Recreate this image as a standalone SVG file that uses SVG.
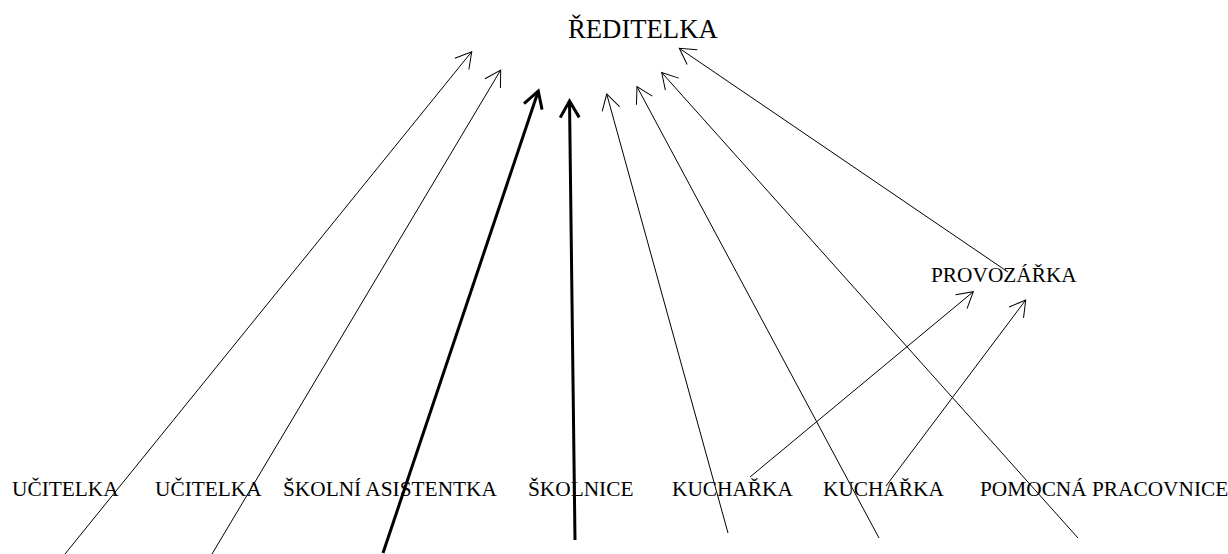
<svg xmlns="http://www.w3.org/2000/svg" width="1228" height="554" viewBox="0 0 1228 554">
<style>
.t{font-size:21.33px;fill:#000}
.big{font-size:26.7px;fill:#000}
.thin{stroke:#000;stroke-width:1;fill:none;marker-end:url(#ah)}
.thick{stroke:#000;stroke-width:3;fill:none;marker-end:url(#ahb)}
</style>
<defs>
<marker id="ah" markerUnits="userSpaceOnUse" orient="auto" refX="0" refY="0" markerWidth="22" markerHeight="24" viewBox="-20 -12 22 24" overflow="visible">
<path d="M-15.6,-9 L0,0 L-15.6,9" fill="none" stroke="#000" stroke-width="1"/>
</marker>
<marker id="ahb" markerUnits="userSpaceOnUse" orient="auto" refX="0" refY="0" markerWidth="24" markerHeight="26" viewBox="-21 -13 24 26" overflow="visible">
<path d="M-16.5,-9.5 L0,0 L-16.5,9.5" fill="none" stroke="#000" stroke-width="3"/>
</marker>
</defs>
<rect width="1228" height="554" fill="#fff"/>
<g id="connectors">
<line class="thin" x1="65" y1="554" x2="471.7" y2="51.7"/>
<line class="thin" x1="212" y1="554" x2="500.7" y2="70"/>
<line class="thick" x1="383" y1="553" x2="538.3" y2="91"/>
<line class="thick" x1="575" y1="540" x2="569.5" y2="101"/>
<line class="thin" x1="728" y1="533" x2="606.7" y2="94"/>
<line class="thin" x1="879" y1="538" x2="637" y2="86.7"/>
<line class="thin" x1="1078" y1="538" x2="661.7" y2="72.5"/>
<line class="thin" x1="1008" y1="272" x2="679.3" y2="48.3"/>
<line class="thin" x1="750" y1="477" x2="973.3" y2="291.7"/>
<line class="thin" x1="886" y1="486" x2="1025.7" y2="300"/>
</g>
<g font-family="'Liberation Serif', 'Times New Roman', Times, serif">
<g id="reditelka"><text class="big" x="568" y="38">ŘEDITELKA</text></g>
<g id="provozarka"><text class="t" x="931" y="282">PROVOZÁŘKA</text></g>
<g id="ucitelka1"><text class="t" x="12" y="496">UČITELKA</text></g>
<g id="ucitelka2"><text class="t" x="155" y="496">UČITELKA</text></g>
<g id="asistentka"><text class="t" x="283" y="496">ŠKOLNÍ ASISTENTKA</text></g>
<g id="skolnice"><text class="t" x="528" y="496">ŠKOLNICE</text></g>
<g id="kucharka1"><text class="t" x="672" y="496">KUCHAŘKA</text></g>
<g id="kucharka2"><text class="t" x="823" y="496">KUCHAŘKA</text></g>
<g id="pomocna"><text class="t" x="980" y="496">POMOCNÁ PRACOVNICE</text></g>
</g>
</svg>
